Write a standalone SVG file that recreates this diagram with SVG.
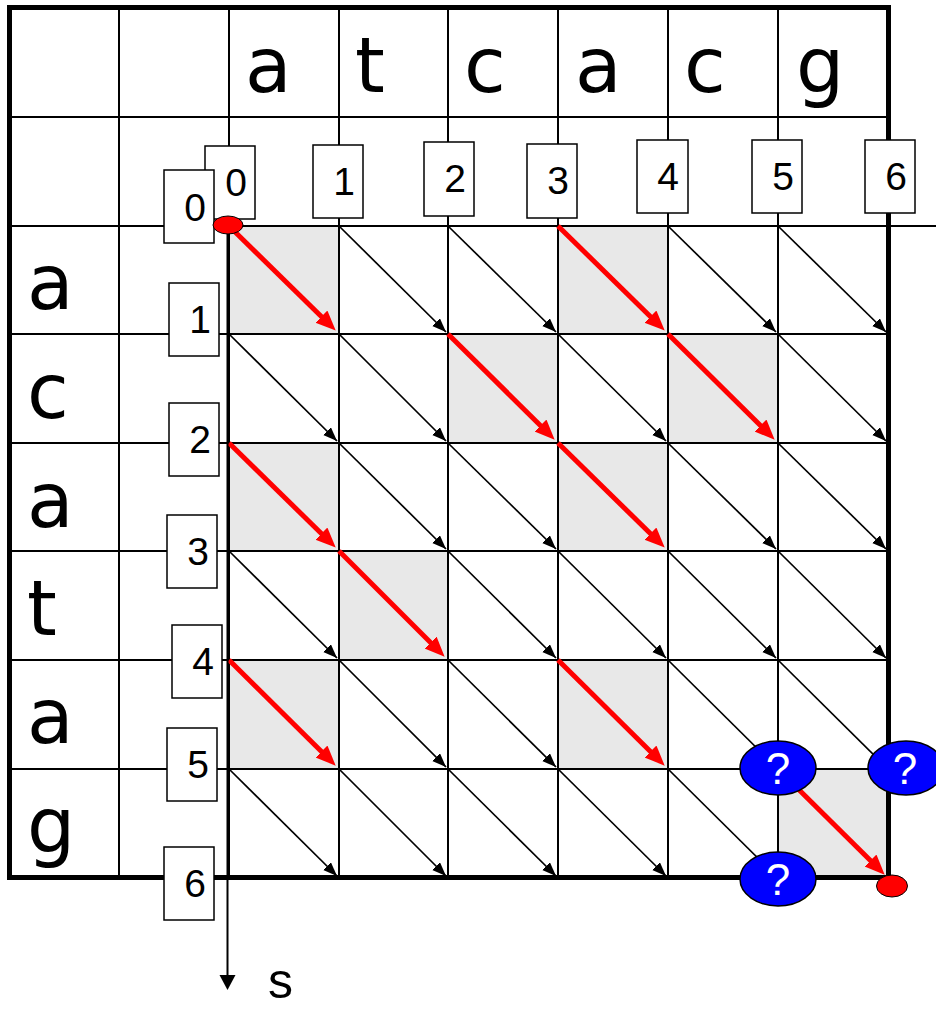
<svg xmlns="http://www.w3.org/2000/svg" width="936" height="1009" viewBox="0 0 936 1009">
<style>
.g{fill:#E8E8E8;stroke:none}
.gl{stroke:#000;stroke-width:2;fill:none}
.blk{stroke:#000;stroke-width:1.7;fill:none;marker-end:url(#ah)}
.red{stroke:#FF0000;stroke-width:5;fill:none;marker-end:url(#rh)}
.box{fill:#fff;stroke:#000;stroke-width:1.5}
.num{font-family:"Liberation Sans",Arial,sans-serif;font-size:39px;text-anchor:middle;fill:#000}
.let{font-family:"DejaVu Sans",Verdana,sans-serif;font-size:76px;fill:#000}
.q{fill:#0000FF;stroke:#000;stroke-width:1.5}
.qt{font-family:"Liberation Sans",Arial,sans-serif;font-size:44px;text-anchor:middle;fill:#fff}
.dot{fill:#FF0000;stroke:#000;stroke-width:1}
</style>
<defs>
<marker id="ah" markerUnits="userSpaceOnUse" markerWidth="15" markerHeight="12" refX="14" refY="5.5" orient="auto"><path d="M0,0 L14,5.5 L0,11 z" fill="#000"/></marker>
<marker id="rh" markerUnits="userSpaceOnUse" markerWidth="21" markerHeight="18" refX="12" refY="8.5" orient="auto"><path d="M0,0 L20,8.5 L0,17 z" fill="#FF0000"/></marker>
<marker id="axh" markerUnits="userSpaceOnUse" markerWidth="17" markerHeight="17" refX="0" refY="8" orient="auto"><path d="M0,0 L15,8 L0,16 z" fill="#000"/></marker>
</defs>
<rect width="936" height="1009" fill="#fff"/>
<g id="matches">
<rect class="g" x="229" y="226" width="110" height="108"/>
<rect class="g" x="558" y="226" width="110" height="108"/>
<rect class="g" x="448" y="334" width="110" height="109"/>
<rect class="g" x="668" y="334" width="110" height="109"/>
<rect class="g" x="229" y="443" width="110" height="108"/>
<rect class="g" x="558" y="443" width="110" height="108"/>
<rect class="g" x="339" y="551" width="109" height="109"/>
<rect class="g" x="229" y="660" width="110" height="109"/>
<rect class="g" x="558" y="660" width="110" height="109"/>
<rect class="g" x="778" y="769" width="110" height="109"/>
</g>
<g id="grid">
<path class="gl" d="M119,8V878 M229,8V878 M339,8V878 M448,8V878 M558,8V878 M668,8V878 M778,8V878"/>
<path class="gl" d="M10,117H888 M10,226H936 M10,334H888 M10,443H888 M10,551H888 M10,660H888 M10,769H888"/>
<rect x="9.5" y="7.5" width="879" height="870" fill="none" stroke="#000" stroke-width="5"/>
</g>
<g id="letters">
<text class="let" x="245" y="92">a</text>
<text class="let" x="355" y="92">t</text>
<text class="let" x="464" y="92">c</text>
<text class="let" x="575" y="92">a</text>
<text class="let" x="684" y="92">c</text>
<text class="let" x="796" y="92">g</text>
<text class="let" x="27" y="309">a</text>
<text class="let" x="27" y="418">c</text>
<text class="let" x="27" y="527">a</text>
<text class="let" x="27" y="635">t</text>
<text class="let" x="27" y="743">a</text>
<text class="let" x="27" y="852">g</text>
</g>
<g id="connectors">
<line class="blk" x1="339" y1="226" x2="446" y2="332"/>
<line class="blk" x1="448" y1="226" x2="556" y2="332"/>
<line class="blk" x1="668" y1="226" x2="776" y2="332"/>
<line class="blk" x1="778" y1="226" x2="886" y2="332"/>
<line class="blk" x1="229" y1="334" x2="337" y2="441"/>
<line class="blk" x1="339" y1="334" x2="446" y2="441"/>
<line class="blk" x1="558" y1="334" x2="666" y2="441"/>
<line class="blk" x1="778" y1="334" x2="886" y2="441"/>
<line class="blk" x1="339" y1="443" x2="446" y2="549"/>
<line class="blk" x1="448" y1="443" x2="556" y2="549"/>
<line class="blk" x1="668" y1="443" x2="776" y2="549"/>
<line class="blk" x1="778" y1="443" x2="886" y2="549"/>
<line class="blk" x1="229" y1="551" x2="337" y2="658"/>
<line class="blk" x1="448" y1="551" x2="556" y2="658"/>
<line class="blk" x1="558" y1="551" x2="666" y2="658"/>
<line class="blk" x1="668" y1="551" x2="776" y2="658"/>
<line class="blk" x1="778" y1="551" x2="886" y2="658"/>
<line class="blk" x1="339" y1="660" x2="446" y2="767"/>
<line class="blk" x1="448" y1="660" x2="556" y2="767"/>
<line class="blk" x1="668" y1="660" x2="776" y2="767"/>
<line class="blk" x1="778" y1="660" x2="886" y2="767"/>
<line class="blk" x1="229" y1="769" x2="337" y2="876"/>
<line class="blk" x1="339" y1="769" x2="446" y2="876"/>
<line class="blk" x1="448" y1="769" x2="556" y2="876"/>
<line class="blk" x1="558" y1="769" x2="666" y2="876"/>
<line class="blk" x1="668" y1="769" x2="776" y2="876"/>
<line class="red" x1="229" y1="226" x2="330" y2="325"/>
<line class="red" x1="558" y1="226" x2="659" y2="325"/>
<line class="red" x1="448" y1="334" x2="549" y2="434"/>
<line class="red" x1="668" y1="334" x2="769" y2="434"/>
<line class="red" x1="229" y1="443" x2="330" y2="542"/>
<line class="red" x1="558" y1="443" x2="659" y2="542"/>
<line class="red" x1="339" y1="551" x2="439" y2="651"/>
<line class="red" x1="229" y1="660" x2="330" y2="760"/>
<line class="red" x1="558" y1="660" x2="659" y2="760"/>
<line class="red" x1="778" y1="769" x2="879" y2="869"/>
<line x1="227.5" y1="226" x2="227.5" y2="975" stroke="#000" stroke-width="2" marker-end="url(#axh)"/>
</g>
<g id="col-indices">
<g id="c0"><rect class="box" x="205" y="146" width="50" height="73"/><text class="num" x="236" y="196">0</text></g>
<g id="c1"><rect class="box" x="313" y="145" width="50" height="73"/><text class="num" x="344" y="195">1</text></g>
<g id="c2"><rect class="box" x="424" y="142" width="50" height="74"/><text class="num" x="455" y="192">2</text></g>
<g id="c3"><rect class="box" x="527" y="144" width="50" height="74"/><text class="num" x="558" y="194">3</text></g>
<g id="c4"><rect class="box" x="637" y="140" width="51" height="73"/><text class="num" x="668" y="190">4</text></g>
<g id="c5"><rect class="box" x="752" y="140" width="50" height="73"/><text class="num" x="783" y="190">5</text></g>
<g id="c6"><rect class="box" x="865" y="140" width="50" height="73"/><text class="num" x="896" y="190">6</text></g>
</g>
<g id="row-indices">
<g id="r0"><rect class="box" x="164" y="170" width="50" height="73"/><text class="num" x="195" y="221">0</text></g>
<g id="r1"><rect class="box" x="169" y="283" width="50" height="73"/><text class="num" x="200" y="333">1</text></g>
<g id="r2"><rect class="box" x="169" y="403" width="50" height="73"/><text class="num" x="200" y="453">2</text></g>
<g id="r3"><rect class="box" x="167" y="515" width="50" height="73"/><text class="num" x="198" y="565">3</text></g>
<g id="r4"><rect class="box" x="172" y="625" width="50" height="73"/><text class="num" x="203" y="675">4</text></g>
<g id="r5"><rect class="box" x="167" y="728" width="50" height="73"/><text class="num" x="198" y="778">5</text></g>
<g id="r6"><rect class="box" x="164" y="847" width="50" height="73"/><text class="num" x="195" y="897">6</text></g>
</g>
<g id="unknowns">
<g id="q1"><ellipse class="q" cx="778" cy="768" rx="38" ry="27"/><text class="qt" x="778" y="784">?</text></g>
<g id="q2"><ellipse class="q" cx="906" cy="768" rx="38" ry="27"/><text class="qt" x="905" y="784">?</text></g>
<g id="q3"><ellipse class="q" cx="778" cy="879" rx="38" ry="27"/><text class="qt" x="778" y="895">?</text></g>
</g>
<g id="endpoints">
<ellipse id="start" class="dot" cx="228" cy="225" rx="15" ry="9"/>
<ellipse id="end" class="dot" cx="892" cy="886" rx="15.5" ry="11"/>
</g>
<text id="axis-label" x="268" y="998" font-family="'Liberation Sans',Arial,sans-serif" font-size="50" fill="#000">s</text>
</svg>
